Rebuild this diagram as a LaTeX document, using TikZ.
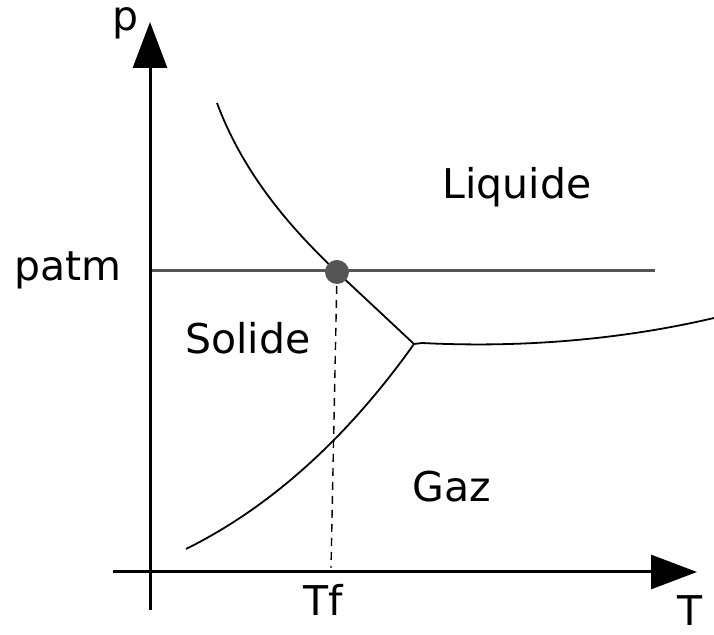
\documentclass[tikz,border=0pt]{standalone}
\usepackage{fontspec}
\setmainfont{DejaVu Sans}
\usetikzlibrary{arrows.meta, positioning}
\definecolor{lineGray}{RGB}{85, 85, 85}

\begin{document}
\begin{tikzpicture}[
  x=0.5pt, y=-0.5pt,
  every node/.style={font=\fontsize{20.5}{24}\selectfont, inner sep=0pt},
  axis/.style={line width=1.5pt, -{Triangle[length=23pt, width=17pt]}},
  curve/.style={line width=0.9pt, black},
  patmline/.style={line width=1.5pt, color=lineGray},
  guide/.style={line width=0.7pt, dashed, dash pattern=on 4pt off 3pt}
]
  \useasboundingbox (0,0) rectangle (714,635);

  % Axes
  \coordinate (origin) at (150,610);
  \coordinate (ptop) at (150,22);
  \coordinate (xstart) at (113,572);
  \coordinate (tright) at (697,572);
  \draw[axis] (origin) -- (ptop);
  \draw[axis] (xstart) -- (tright);
  \node (plabel) at (126,23) {p};
  \node (tlabel) at (690,611) {T};

  % Pression atmospherique
  \coordinate (patmL) at (152,271);
  \coordinate (patmR) at (655,271);
  \draw[patmline] (patmL) -- (patmR);
  \node (patm) at (68,270) {patm};

  % Courbes de changement d'etat
  \coordinate (fstart) at (217,103);
  \coordinate (fusion) at (337,272);
  \coordinate (triple) at (414,344);
  \coordinate (sstart) at (186,549);
  \coordinate (vend) at (714,318);
  \draw[curve] (fstart) .. controls (245,178) and (295,232) .. (fusion) -- (triple);
  \draw[curve] (sstart) .. controls (285,500) and (360,420) .. (triple);
  \draw[curve] (triple) -- (422,343) .. controls (520,348) and (620,340) .. (vend);

  % Point de fusion
  \coordinate (tf) at (331,568);
  \draw[guide] (fusion) -- (tf);
  \fill[lineGray] (fusion) circle (6pt);
  \node (tflabel) at (323,600) {Tf};

  % Domaines
  \node (solide) at (248,338) {Solide};
  \node (liquide) at (517,187) {Liquide};
  \node (gaz) at (452,487) {Gaz};
\end{tikzpicture}
\end{document}
